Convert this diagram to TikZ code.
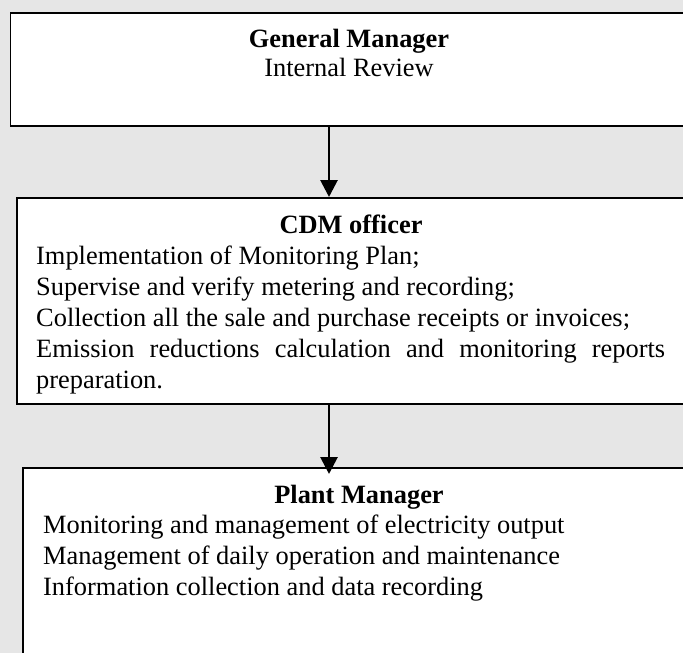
\documentclass[tikz,border=0pt]{standalone}
\usepackage{fontspec}
\setmainfont{Liberation Serif}
\usetikzlibrary{arrows.meta}
\definecolor{bggray}{HTML}{E6E6E6}
\begin{document}
\begin{tikzpicture}[x=1pt,y=-1pt,
  box/.style={draw=black, line width=1.8pt, fill=white, rectangle, anchor=north west, inner sep=0pt},
  txt/.style={inner sep=0pt, font=\fontsize{26.4}{31}\selectfont},
  ctr/.style={txt, anchor=base},
  lft/.style={txt, anchor=base west},
  arr/.style={line width=2.8pt, -{Triangle[width=17pt,length=17pt]}}]
\useasboundingbox (0,0) rectangle (683,653);
\clip (0,0) rectangle (683,653);
\fill[bggray] (0,0) rectangle (683,653);
% boxes
\node[box, minimum width=682pt, minimum height=113pt] (gm) at (9.6,12) {};
\node[box, minimum width=674pt, minimum height=206pt] (cdm) at (15.7,197) {};
\node[box, minimum width=676pt, minimum height=200pt] (pm) at (22,467) {};
% box 1 text
\node[ctr] (gmt) at (349,47) {\bfseries General Manager};
\node[ctr] (gmr) at (349,76) {Internal Review};
% box 2 text
\node[ctr] (cdmt) at (351,233) {\bfseries CDM officer};
\node[lft] (c1) at (36,264) {Implementation of Monitoring Plan;};
\node[lft] (c2) at (36,295) {Supervise and verify metering and recording;};
\node[lft] (c3) at (36,326) {Collection all the sale and purchase receipts or invoices;};
\node[lft] (c4) at (36,357) {\makebox[629pt][s]{Emission reductions calculation and monitoring reports}};
\node[lft] (c5) at (36,388) {preparation.};
% box 3 text
\node[ctr] (pmt) at (359,503) {\bfseries Plant Manager};
\node[lft] (p1) at (43,533) {Monitoring and management of electricity output};
\node[lft] (p2) at (43,564) {Management of daily operation and maintenance};
\node[lft] (p3) at (43,595) {Information collection and data recording};
% connectors
\coordinate (ax) at (329,0);
\draw[arr] (gm.south -| ax) -- (cdm.north -| ax);
\draw[arr, shorten >=-7pt] (cdm.south -| ax) -- (pm.north -| ax);
\end{tikzpicture}
\end{document}
